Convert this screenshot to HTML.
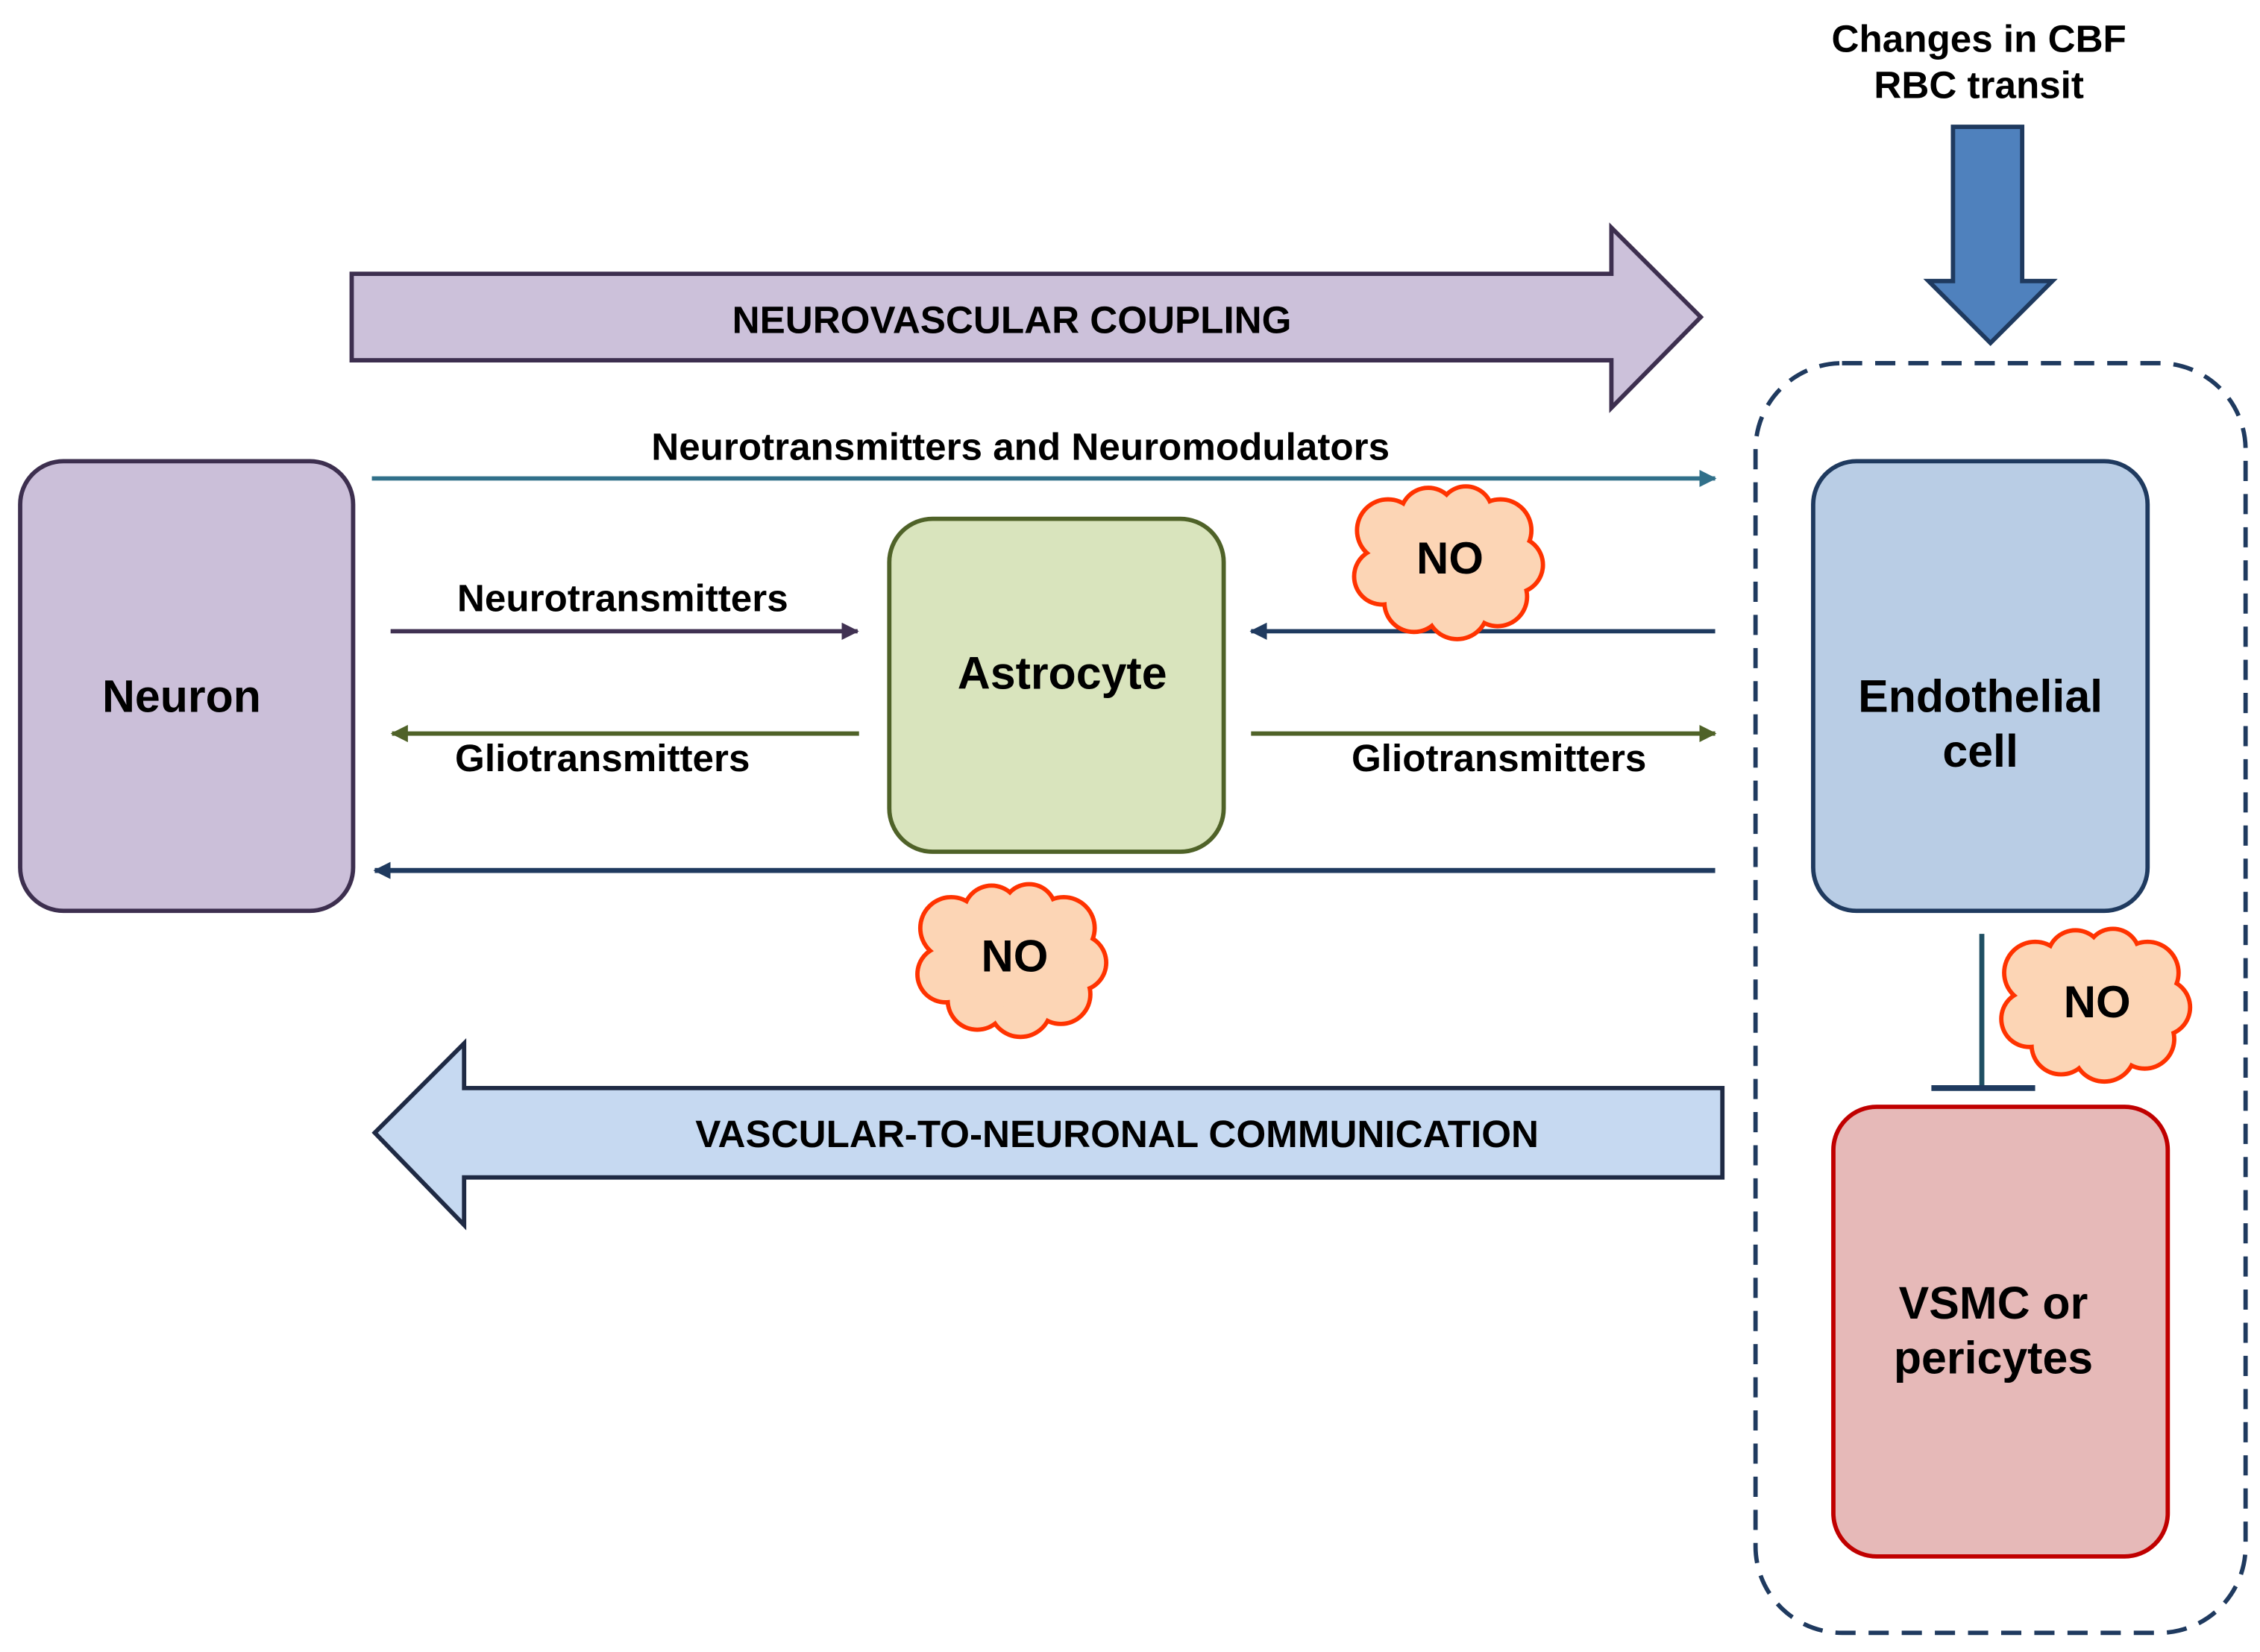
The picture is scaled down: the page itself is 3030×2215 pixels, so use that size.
<!DOCTYPE html>
<html><head><meta charset="utf-8"><style>
html,body{margin:0;padding:0;background:#fff;}
svg{display:block;}
text{font-family:"Liberation Sans",Arial,sans-serif;font-weight:bold;fill:#000;text-anchor:middle;}
</style></head><body>
<svg width="3030" height="2215" viewBox="0 0 1568 1146.3" preserveAspectRatio="none" xmlns="http://www.w3.org/2000/svg">
<defs>
<marker id="mT" markerWidth="12" markerHeight="12" refX="11" refY="6" orient="auto" markerUnits="userSpaceOnUse"><path d="M0,0 L12,6 L0,12 Z" fill="#31708a"/></marker>
<marker id="mP" markerWidth="12" markerHeight="12" refX="11" refY="6" orient="auto" markerUnits="userSpaceOnUse"><path d="M0,0 L12,6 L0,12 Z" fill="#403152"/></marker>
<marker id="mG" markerWidth="12" markerHeight="12" refX="11" refY="6" orient="auto" markerUnits="userSpaceOnUse"><path d="M0,0 L12,6 L0,12 Z" fill="#4f6228"/></marker>
<marker id="mN" markerWidth="12" markerHeight="12" refX="11" refY="6" orient="auto" markerUnits="userSpaceOnUse"><path d="M0,0 L12,6 L0,12 Z" fill="#1f3a5f"/></marker>
<g id="cloud">
 <g stroke="#ff3300" stroke-width="6" fill="#fcd5b5">
  <circle cx="-40" cy="-22" r="20"/><circle cx="-12" cy="-32" r="18"/><circle cx="14" cy="-34" r="17"/><circle cx="38" cy="-22" r="20"/>
  <circle cx="48" cy="2" r="18"/><circle cx="36" cy="24" r="19"/><circle cx="8" cy="32" r="20"/><circle cx="-22" cy="28" r="19"/>
  <circle cx="-44" cy="10" r="18"/>
 </g>
 <g fill="#fcd5b5">
  <circle cx="-40" cy="-22" r="20"/><circle cx="-12" cy="-32" r="18"/><circle cx="14" cy="-34" r="17"/><circle cx="38" cy="-22" r="20"/>
  <circle cx="48" cy="2" r="18"/><circle cx="36" cy="24" r="19"/><circle cx="8" cy="32" r="20"/><circle cx="-22" cy="28" r="19"/>
  <circle cx="-44" cy="10" r="18"/><ellipse cx="0" cy="0" rx="45" ry="30"/>
 </g>
</g>
</defs>

<rect x="1218" y="252" width="340" height="881" rx="60" fill="none" stroke="#1f3a5f" stroke-width="3" stroke-dasharray="14,9"/>

<path d="M244,190 L1118,190 L1118,158 L1180,220 L1118,283 L1118,250 L244,250 Z" fill="#ccc1da" stroke="#3d2f4f" stroke-width="3"/>
<text x="702" y="231" font-size="26.5">NEUROVASCULAR COUPLING</text>

<path d="M1195,755 L322,755 L322,724 L260,786 L322,850 L322,817 L1195,817 Z" fill="#c6d9f1" stroke="#1f2a44" stroke-width="3"/>
<text x="775" y="796" font-size="26.5">VASCULAR-TO-NEURONAL COMMUNICATION</text>

<path d="M1355,88 L1403,88 L1403,195 L1424,195 L1381,238 L1338,195 L1355,195 Z" fill="#4f81bd" stroke="#1f3a5f" stroke-width="3"/>
<text x="1373" y="36" font-size="26.5">Changes in CBF</text>
<text x="1373" y="68" font-size="26.5">RBC transit</text>

<rect x="14" y="320" width="231" height="312" rx="30" fill="#cbbfd9" stroke="#3d2f4f" stroke-width="3"/>
<text x="126" y="494" font-size="31.5">Neuron</text>
<rect x="617" y="360" width="232" height="231" rx="30" fill="#d9e4bd" stroke="#4f6228" stroke-width="3"/>
<text x="737" y="478" font-size="31.5">Astrocyte</text>
<rect x="1258" y="320" width="232" height="312" rx="30" fill="#b9cde5" stroke="#1f3a5f" stroke-width="3"/>
<text x="1374" y="494" font-size="31.5">Endothelial</text>
<text x="1374" y="532" font-size="31.5">cell</text>
<rect x="1272" y="768" width="232" height="312" rx="30" fill="#e6b9b8" stroke="#c00000" stroke-width="3"/>
<text x="1383" y="915" font-size="31.5">VSMC or</text>
<text x="1383" y="953" font-size="31.5">pericytes</text>

<line x1="258" y1="332" x2="1190" y2="332" stroke="#31708a" stroke-width="3" marker-end="url(#mT)"/>
<text x="708" y="319" font-size="26.5">Neurotransmitters and Neuromodulators</text>
<line x1="271" y1="438" x2="595" y2="438" stroke="#403152" stroke-width="3" marker-end="url(#mP)"/>
<text x="432" y="424" font-size="26.5">Neurotransmitters</text>
<line x1="596" y1="509" x2="272" y2="509" stroke="#4f6228" stroke-width="3" marker-end="url(#mG)"/>
<text x="418" y="535" font-size="26.5">Gliotransmitters</text>
<line x1="1190" y1="438" x2="868" y2="438" stroke="#1f3a5f" stroke-width="3" marker-end="url(#mN)"/>
<line x1="868" y1="509" x2="1190" y2="509" stroke="#4f6228" stroke-width="3" marker-end="url(#mG)"/>
<text x="1040" y="535" font-size="26.5">Gliotransmitters</text>
<line x1="1190" y1="604" x2="260" y2="604" stroke="#1f3a5f" stroke-width="3.5" marker-end="url(#mN)"/>

<line x1="1375" y1="648" x2="1375" y2="755" stroke="#1f4f63" stroke-width="3.5"/>
<line x1="1340" y1="755" x2="1412" y2="755" stroke="#1f3a5f" stroke-width="4"/>

<use href="#cloud" x="1003" y="390"/>
<text x="1006" y="398" font-size="31">NO</text>
<use href="#cloud" x="700" y="666"/>
<text x="704" y="674" font-size="31">NO</text>
<use href="#cloud" x="1452" y="697"/>
<text x="1455" y="706" font-size="31">NO</text>
</svg>
</body></html>
